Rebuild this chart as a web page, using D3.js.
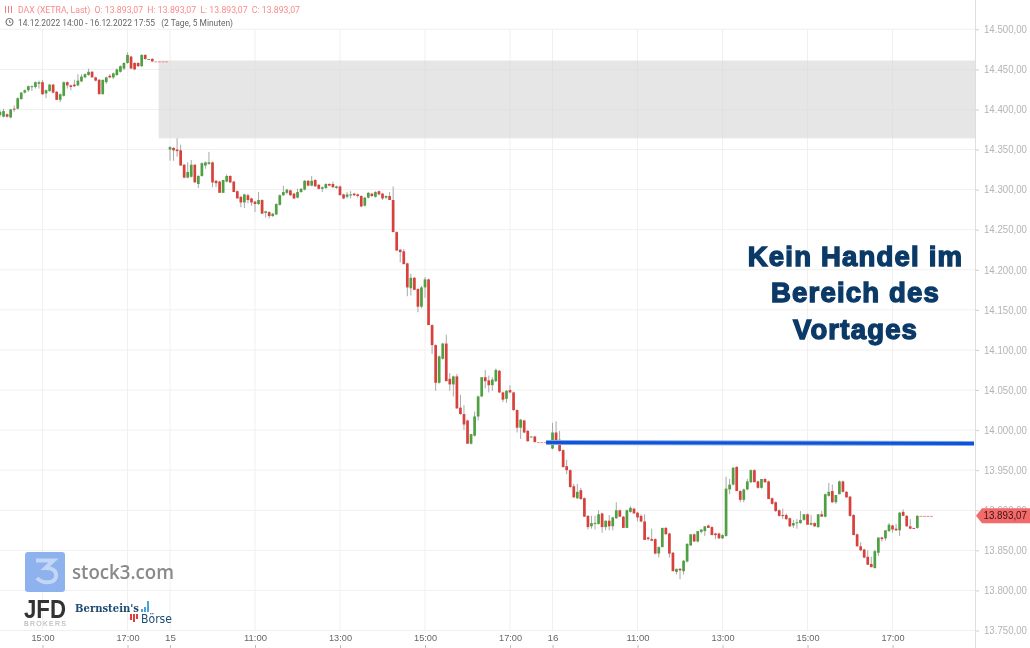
<!DOCTYPE html>
<html><head><meta charset="utf-8">
<script src="https://cdn.jsdelivr.net/npm/d3@7"></script>
<style>html,body{margin:0;padding:0;background:#fff}svg{display:block;filter:blur(.3px)}text{font-family:"Liberation Sans",Arial,sans-serif;white-space:pre}</style>
</head><body><div id="c"></div><script>
// open, high, low, close per 5-minute candle
const day14 = [[14393,14399,14391,14397],[14391,14401,14390,14398],[14394,14395,14390,14391],[14390,14401,14389,14400],[14401,14405,14397,14400],[14401,14415,14400,14414],[14413,14422,14412,14421],[14421,14425,14420,14424],[14424,14430,14422,14429],[14428,14430,14423,14429],[14428,14435,14426,14434],[14432,14436,14426,14434],[14434,14437,14418,14419],[14420,14425,14414,14424],[14423,14432,14422,14431],[14431,14432,14420,14421],[14422,14423,14412,14412],[14412,14420,14409,14419],[14417,14435,14416,14434],[14434,14435,14426,14430],[14430,14431,14424,14428],[14431,14437,14428,14429],[14430,14444,14429,14436],[14435,14444,14434,14441],[14440,14445,14439,14444],[14443,14451,14442,14447],[14447,14448,14440,14440],[14440,14441,14435,14436],[14437,14438,14419,14419],[14419,14437,14419,14437],[14434,14441,14432,14440],[14442,14444,14439,14440],[14440,14446,14438,14445],[14443,14451,14442,14450],[14447,14455,14446,14454],[14451,14459,14449,14458],[14458,14471,14457,14468],[14466,14467,14451,14451],[14458,14459,14449,14450],[14458,14459,14453,14454],[14454,14469,14453,14468],[14468,14469,14462,14463],[14462,14463,14462,14463],[14463,14464,14459,14460],[14460,14460,14460,14460],[14460,14460,14460,14460],[14460,14460,14460,14460],[14460,14460,14460,14460]];
const day15 = [[14350,14354,14336,14353],[14352,14353,14336,14349],[14350,14364,14341,14348],[14349,14356,14330,14330],[14331,14332,14314,14315],[14315,14334,14314,14322],[14316,14337,14315,14331],[14331,14332,14309,14309],[14307,14318,14302,14317],[14317,14334,14316,14333],[14330,14335,14326,14334],[14332,14347,14331,14334],[14334,14335,14303,14309],[14311,14312,14303,14308],[14310,14311,14296,14296],[14296,14312,14296,14312],[14310,14319,14309,14317],[14317,14318,14308,14309],[14310,14311,14297,14297],[14298,14299,14289,14289],[14291,14292,14278,14284],[14284,14295,14277,14294],[14293,14295,14283,14287],[14289,14290,14280,14284],[14285,14286,14272,14282],[14282,14297,14281,14287],[14287,14288,14270,14270],[14271,14273,14265,14273],[14272,14273,14264,14267],[14267,14271,14266,14270],[14269,14283,14268,14282],[14281,14294,14280,14293],[14293,14305,14292,14297],[14296,14301,14294,14300],[14299,14300,14292,14293],[14295,14296,14288,14289],[14290,14301,14289,14297],[14297,14302,14296,14301],[14300,14312,14299,14311],[14311,14312,14304,14305],[14305,14317,14304,14311],[14312,14313,14304,14304],[14306,14307,14300,14301],[14301,14304,14297,14303],[14302,14308,14301,14307],[14307,14308,14305,14305],[14307,14310,14302,14303],[14302,14305,14301,14304],[14304,14305,14293,14293],[14294,14295,14288,14289],[14291,14297,14289,14294],[14293,14298,14289,14294],[14295,14296,14292,14293],[14294,14295,14290,14292],[14292,14293,14278,14279],[14280,14291,14279,14290],[14290,14297,14289,14296],[14295,14296,14291,14292],[14291,14298,14290,14297],[14298,14299,14293,14294],[14295,14296,14287,14289],[14290,14293,14288,14292],[14292,14297,14287,14287],[14287,14304,14247,14247],[14247,14248,14224,14224],[14225,14226,14209,14222],[14223,14226,14207,14207],[14208,14209,14167,14178],[14177,14195,14168,14190],[14190,14191,14175,14175],[14176,14177,14147,14154],[14154,14180,14152,14178],[14178,14191,14165,14188],[14188,14189,14131,14131],[14131,14132,14095,14106],[14106,14107,14049,14059],[14059,14093,14058,14092],[14089,14109,14088,14108],[14108,14119,14061,14061],[14064,14071,14049,14057],[14057,14068,14042,14067],[14067,14070,14027,14027],[14028,14044,14019,14020],[14020,14031,14000,14007],[14012,14013,13983,13983],[13983,13995,13982,13995],[13993,14023,13992,14017],[14017,14043,14012,14042],[14042,14066,14041,14066],[14066,14075,14052,14061],[14062,14068,14047,14056],[14056,14066,14049,14063],[14061,14077,14060,14075],[14074,14075,14046,14047],[14047,14048,14035,14038],[14039,14050,14034,14049],[14050,14056,14046,14047],[14047,14048,14024,14025],[14025,14026,13997,14003],[14003,14014,13989,14013],[14012,14013,13996,13997],[13999,14000,13986,13986],[13991,13992,13991,13992],[13992,13993,13985,13985],[13985,13985,13985,13985],[13985,13985,13985,13985],[13985,13985,13985,13985],[13985,13985,13985,13985]];
const day16 = [[13977,14009,13976,13997],[13997,14011,13984,13984],[13988,13999,13973,13974],[13975,13976,13953,13954],[13955,13963,13945,13950],[13950,13951,13928,13929],[13930,13933,13916,13916],[13915,13933,13914,13923],[13925,13928,13913,13914],[13915,13916,13892,13892],[13893,13894,13876,13879],[13880,13893,13877,13884],[13884,13893,13876,13884],[13883,13900,13882,13895],[13896,13897,13872,13879],[13879,13887,13875,13887],[13887,13894,13875,13880],[13880,13892,13875,13891],[13890,13910,13889,13900],[13900,13901,13892,13892],[13892,13893,13878,13878],[13878,13901,13878,13900],[13898,13905,13897,13903],[13902,13903,13896,13896],[13897,13898,13886,13891],[13893,13895,13885,13886],[13886,13895,13863,13863],[13866,13867,13862,13864],[13864,13877,13862,13862],[13864,13865,13845,13846],[13846,13855,13841,13854],[13854,13878,13854,13878],[13878,13879,13870,13870],[13871,13872,13841,13846],[13847,13848,13824,13824],[13823,13827,13820,13827],[13827,13828,13814,13825],[13824,13838,13820,13837],[13836,13859,13835,13858],[13856,13870,13856,13870],[13870,13871,13861,13861],[13861,13874,13860,13874],[13873,13876,13871,13876],[13874,13880,13868,13880],[13881,13882,13878,13878],[13879,13880,13869,13869],[13871,13872,13864,13869],[13871,13872,13864,13865],[13865,13870,13864,13869],[13868,13942,13867,13927],[13926,13939,13920,13932],[13932,13954,13931,13953],[13954,13955,13924,13924],[13924,13925,13910,13913],[13913,13927,13910,13926],[13926,13939,13925,13936],[13935,13951,13934,13950],[13950,13951,13935,13935],[13936,13937,13927,13928],[13928,13939,13927,13939],[13939,13940,13934,13935],[13936,13937,13914,13914],[13915,13916,13907,13908],[13910,13911,13898,13899],[13900,13901,13892,13893],[13894,13902,13889,13893],[13894,13896,13888,13889],[13890,13891,13879,13880],[13881,13888,13878,13884],[13884,13889,13877,13885],[13884,13899,13883,13888],[13888,13895,13887,13895],[13895,13896,13882,13882],[13882,13894,13881,13884],[13884,13885,13879,13880],[13879,13895,13878,13895],[13895,13899,13892,13892],[13892,13921,13891,13920],[13918,13934,13917,13923],[13924,13932,13909,13910],[13910,13919,13908,13919],[13920,13937,13920,13936],[13936,13937,13922,13923],[13923,13924,13916,13916],[13917,13918,13892,13893],[13894,13895,13869,13869],[13870,13871,13855,13855],[13855,13860,13849,13850],[13851,13852,13840,13841],[13842,13850,13832,13832],[13833,13842,13829,13829],[13828,13851,13827,13849],[13847,13866,13843,13866],[13866,13867,13861,13864],[13865,13875,13862,13875],[13874,13884,13873,13882],[13881,13882,13872,13876],[13877,13883,13874,13875],[13875,13898,13868,13897],[13898,13901,13893,13893],[13893,13894,13879,13880],[13880,13889,13877,13877],[13878,13878,13877,13877],[13878,13894,13877,13893],[13893,13893,13893,13893],[13893,13893,13893,13893],[13893,13893,13893,13893],[13893,13893,13893,13893]];
const priceTicks = [14500,14450,14400,14350,14300,14250,14200,14150,14100,14050,14000,13950,13900,13850,13800,13750];
const timeTicks = [[-36,"15:00"],[-12,"17:00"],[0,"15"],[24,"11:00"],[48,"13:00"],[72,"15:00"],[96,"17:00"],[108,"16"],[132,"11:00"],[156,"13:00"],[180,"15:00"],[204,"17:00"]];
const gapZone = {from:-3.2, top:14461, bottom:14364};
const levelLine = {from:106.2, to:227, start:13984.6, end:13983.2};
const lastPrice = 13893.07;
const titleLine = "DAX (XETRA, Last)  O: 13.893,07  H: 13.893,07  L: 13.893,07  C: 13.893,07";
const rangeLine = "14.12.2022 14:00 - 16.12.2022 17:55   (2 Tage, 5 Minuten)";
const noteLines = ["Kein Handel im","Bereich des","Vortages"];

const W=1030,H=648,R=975;
const x=d3.scaleLinear().domain([-48,227]).range([0,974]);
const y=d3.scaleLinear().domain([13750,14500]).range([630.5,29.3]);
const de=d3.formatLocale({decimal:",",thousands:".",grouping:[3],currency:["","€"]}).format(",.2f");
const candles=[...day14.map((d,i)=>({i:i-48,d})),...day15.map((d,i)=>({i,d})),...day16.map((d,i)=>({i:i+108,d}))];

const svg=d3.select("#c").append("svg").attr("width",W).attr("height",H);
const grid="#f0f0f0";
svg.append("g").selectAll("line").data(priceTicks).join("line")
 .attr("x1",0).attr("x2",R).attr("y1",d=>y(d)).attr("y2",d=>y(d)).attr("stroke",grid);
svg.append("g").selectAll("line").data(timeTicks).join("line")
 .attr("x1",d=>x(d[0])).attr("x2",d=>x(d[0])).attr("y1",y(14500)).attr("y2",y(13750)).attr("stroke",grid);

svg.append("rect").attr("x",x(gapZone.from)).attr("y",y(gapZone.top)).attr("width",R-x(gapZone.from))
 .attr("height",y(gapZone.bottom)-y(gapZone.top)).attr("fill","#d8d8d8").attr("opacity",.65);

const RED="#d8403c",GREEN="#4f9f43";
const cg=svg.append("g");
cg.selectAll("line").data(candles.filter(c=>c.d[1]>c.d[2])).join("line")
 .attr("x1",c=>x(c.i)).attr("x2",c=>x(c.i)).attr("y1",c=>y(c.d[1])).attr("y2",c=>y(c.d[2]))
 .attr("stroke","#a8a8a8").attr("stroke-width",1);
cg.selectAll("rect").data(candles).join("rect")
 .attr("x",c=>x(c.i)-1.35).attr("width",2.7)
 .attr("y",c=>y(Math.max(c.d[0],c.d[3])))
 .attr("height",c=>Math.max(1,Math.abs(y(c.d[0])-y(c.d[3]))))
 .attr("fill",c=>c.d[1]===c.d[2]?"#e88":(c.d[3]>=c.d[0]?GREEN:RED));

// y axis
const ya=svg.append("g").attr("transform",`translate(${R},0)`)
 .call(d3.axisRight(y).tickValues(priceTicks).tickSize(4).tickPadding(5).tickFormat(de));
ya.select(".domain").remove();
ya.selectAll("line").attr("stroke","#cfcfcf");
ya.selectAll("text").attr("fill","#b4b4b4").style("font-size","10.2px").attr("textLength",43).attr("lengthAdjust","spacingAndGlyphs");
svg.append("line").attr("x1",R+.5).attr("x2",R+.5).attr("y1",0).attr("y2",H).attr("stroke","#dedede");

// x axis
const xa=svg.append("g").attr("transform","translate(0,645)")
 .call(d3.axisBottom(x).tickValues(timeTicks.map(d=>d[0])).tickSize(3).tickPadding(-13.5)
 .tickFormat(v=>timeTicks.find(d=>d[0]===v)[1]));
xa.select(".domain").remove();
xa.selectAll("line").attr("stroke","#bdbdbd");
xa.selectAll("text").attr("fill","#666").style("font-size","9.8px").each(function(){
  const t=d3.select(this); if(t.text().length>2) t.attr("textLength",23).attr("lengthAdjust","spacingAndGlyphs");
});

// level line
svg.append("line").attr("x1",x(levelLine.from)).attr("x2",x(levelLine.to))
 .attr("y1",y(levelLine.start)).attr("y2",y(levelLine.end)).attr("stroke","#7fa6e8").attr("stroke-width",5);
svg.append("line").attr("x1",x(levelLine.from)).attr("x2",x(levelLine.to))
 .attr("y1",y(levelLine.start)).attr("y2",y(levelLine.end)).attr("stroke","#0f54d6").attr("stroke-width",3);

// last price tag
const ly=y(lastPrice);
svg.append("path").attr("fill","#f26a6a")
 .attr("d",`M${R+1} ${ly} L${R+7} ${ly-7.5} H${W} V${ly+7.5} H${R+7} Z`);
svg.append("text").attr("x",983.5).attr("y",ly+3.6).attr("fill","#3a1414").style("font-size","10.2px").attr("textLength",43.5).attr("lengthAdjust","spacingAndGlyphs").text(de(lastPrice));

// header
svg.append("g").attr("stroke","#f47c7c").selectAll("line").data([5.5,8.5,11.5]).join("line")
 .attr("x1",d=>d).attr("x2",d=>d).attr("y1",6).attr("y2",13);
svg.append("text").attr("x",18).attr("y",13).attr("fill","#f98b8b").style("font-size","8.8px").style("font-family","Roboto").attr("textLength",282).attr("lengthAdjust","spacingAndGlyphs").text(titleLine);
svg.append("circle").attr("cx",9.5).attr("cy",22).attr("r",3.6).attr("fill","none").attr("stroke","#666");
svg.append("path").attr("d","M9.5 20V22.3H11.3").attr("fill","none").attr("stroke","#666").attr("stroke-width",.8);
svg.append("text").attr("x",18).attr("y",25.6).attr("fill","#666").style("font-size","8.8px").style("font-family","Roboto").attr("textLength",215).attr("lengthAdjust","spacingAndGlyphs").text(rangeLine);

// note
svg.append("g").selectAll("text").data(noteLines).join("text")
 .attr("x",855.5).attr("y",(d,i)=>265.5+i*36.5).attr("text-anchor","middle")
 .attr("fill","#0b3a68").attr("stroke","#0b3a68").attr("stroke-width",1.4)
 .style("font-size","27.5px").style("font-weight","700").style("letter-spacing","1.2px").text(d=>d);

// logos
svg.append("rect").attr("x",25).attr("y",552).attr("width",40).attr("height",40).attr("rx",3).attr("fill","#8db2ee");
svg.append("path").attr("d","M36 560.5H53.5L45.5 568C55 568 56.5 573 56 576.5C55 583.5 43 584.5 37 578")
 .attr("fill","none").attr("stroke","#c3d6f6").attr("stroke-width",4);
svg.append("text").attr("x",72).attr("y",579).attr("fill","#8a8a8a").style("font-size","19px").style("font-family","'Open Sans'").style("font-weight","600").attr("textLength",102).attr("lengthAdjust","spacingAndGlyphs").text("stock3.com");
svg.append("text").attr("x",24).attr("y",617.5).attr("fill","#333").style("font-size","26px").style("font-weight","700").attr("textLength",42).attr("lengthAdjust","spacingAndGlyphs").text("JFD");
svg.append("text").attr("x",24).attr("y",625.5).attr("fill","#aaa").style("font-size","7px").attr("textLength",42).text("BROKERS");
svg.append("text").attr("x",75).attr("y",612).attr("fill","#1d4b73").style("font-size","11.5px").style("font-family","'DejaVu Serif'").style("font-weight","700").attr("textLength",64).attr("lengthAdjust","spacingAndGlyphs").text("Bernstein's");
svg.append("text").attr("x",141).attr("y",623).attr("fill","#1d4b73").style("font-size","11.5px").style("font-family","'DejaVu Sans'").attr("textLength",31).attr("lengthAdjust","spacingAndGlyphs").text("Börse");
svg.append("g").attr("fill","#4aa3e0").selectAll("rect").data([[141,3],[144,5],[147,11]]).join("rect")
 .attr("x",d=>d[0]).attr("width",2).attr("y",d=>612-d[1]).attr("height",d=>d[1]);
svg.append("g").attr("fill","#e03c3c").selectAll("rect").data([[130,6],[133,8],[136,5]]).join("rect")
 .attr("x",d=>d[0]).attr("width",2).attr("y",614).attr("height",d=>d[1]);
</script></body></html>
